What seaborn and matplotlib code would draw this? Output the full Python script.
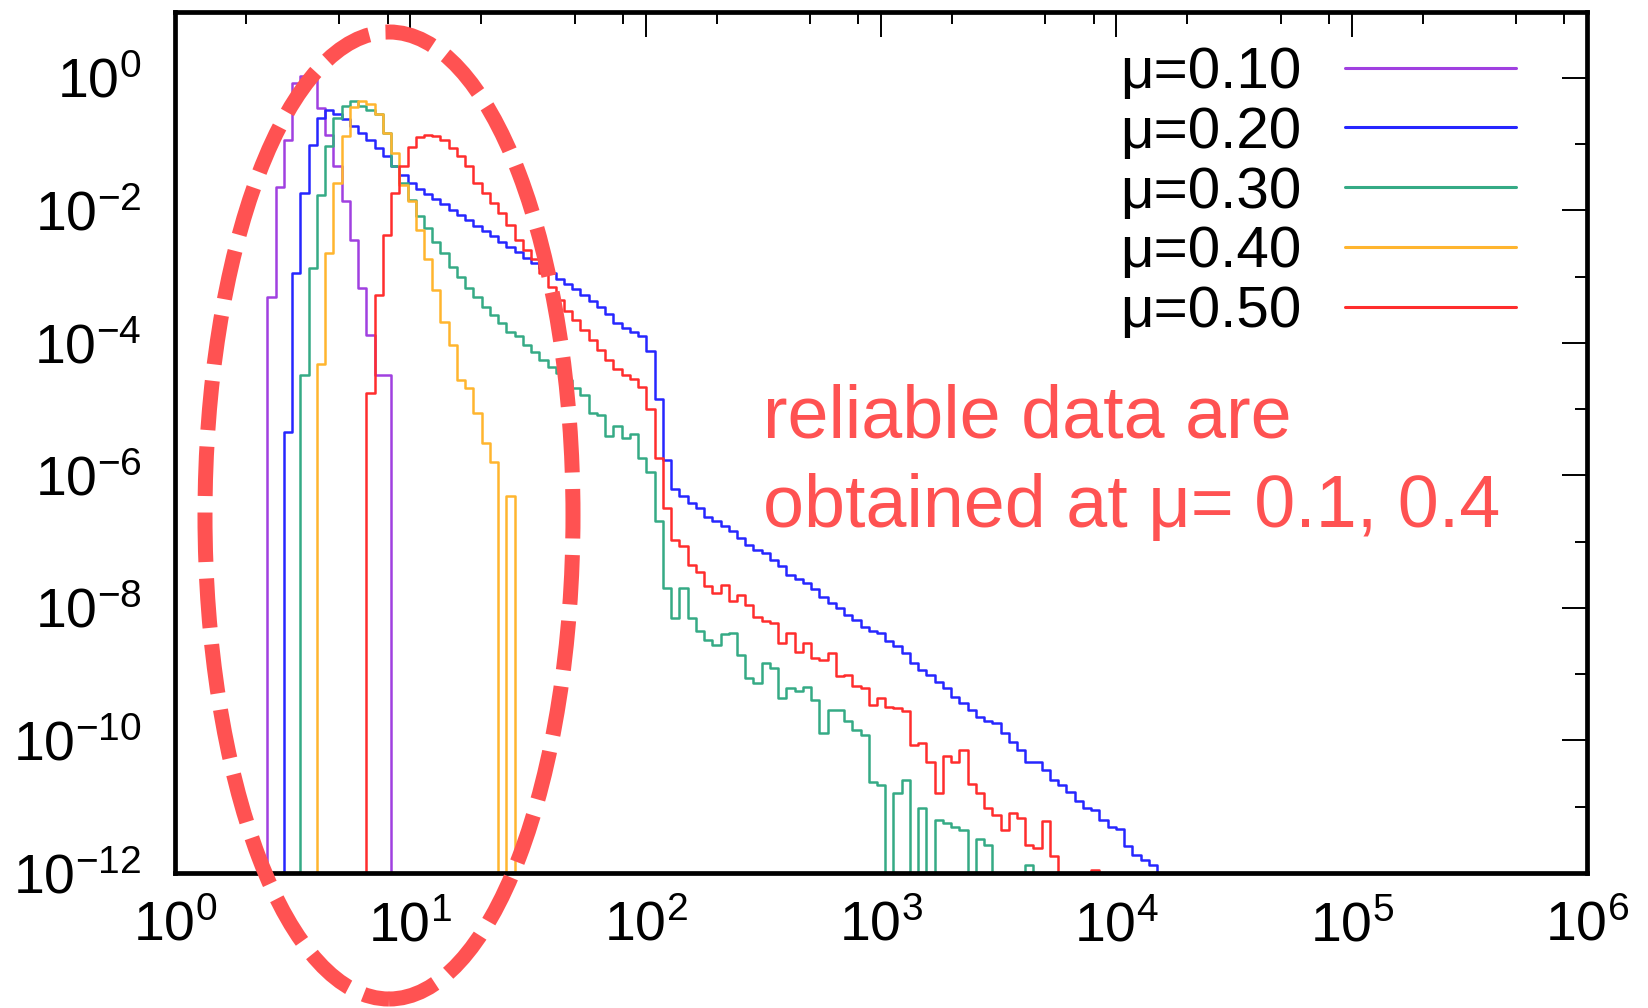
import numpy as np
import pandas as pd
import matplotlib
matplotlib.use("Agg")
import matplotlib.pyplot as plt
import seaborn as sns
from matplotlib.patches import Ellipse
from matplotlib.lines import Line2D
from matplotlib.ticker import FixedLocator, NullFormatter, LogFormatterSciNotation

# ------------------------------------------------------------------ data
series_labels = ["μ=0.10", "μ=0.20", "μ=0.30", "μ=0.40", "μ=0.50"]
series_colors = ["#a040e0", "#2626ff", "#35aa85", "#ffb52e", "#ff2d2d"]

# logarithmic histogram bins: bin k covers
# 10**(BIN_LOG0 + k*BIN_DLOG) .. 10**(BIN_LOG0 + (k+1)*BIN_DLOG)
BIN_LOG0 = 0.393
BIN_DLOG = 0.035
EMPTY_BIN_P = 1e-14   # empty bin (below the plotted range)

# log10 of probability per bin (None = empty bin)
mu010_first_bin = 0
mu010_log10p = [-3.30, -1.64, -0.93, -0.08, 0.03, 0.03, -0.45, -0.86, -1.33,
                -1.86, -2.44, -3.17, -3.88, -4.48, -4.48]

mu020_first_bin = 2
mu020_log10p = [-5.35, -2.95, -1.74, -1.01, -0.60, -0.49, -0.55, -0.62, -0.72,
                -0.83, -0.93, -1.06, -1.18, -1.33, -1.47, -1.59, -1.67, -1.75,
                -1.83, -1.91, -1.99, -2.07, -2.15, -2.23, -2.31, -2.39, -2.47,
                -2.55, -2.63, -2.71, -2.79, -2.87, -2.95, -3.03, -3.11, -3.19,
                -3.27, -3.36, -3.46, -3.57, -3.70, -3.77, -3.84, -3.90, -4.12,
                -4.85, -5.76,
                -6.21, -6.31, -6.42, -6.49, -6.62, -6.69, -6.77, -6.84, -6.94,
                -7.05, -7.12, -7.17, -7.27, -7.37, -7.50, -7.57, -7.62, -7.72,
                -7.83, -7.93, -8.00, -8.10, -8.18, -8.28, -8.35, -8.38, -8.50,
                -8.58, -8.68, -8.83, -8.93, -9.01, -9.11, -9.21, -9.34, -9.44,
                -9.54, -9.64, -9.71, -9.74, -9.89, -10.02, -10.14, -10.32,
                -10.32, -10.44, -10.59, -10.67, -10.77, -10.92, -11.02, -11.05,
                -11.20, -11.30, -11.33, -11.60, -11.73, -11.80, -11.88]

mu030_first_bin = 4
mu030_log10p = [-4.48, -2.87, -1.76, -1.03, -0.60, -0.42, -0.35, -0.42, -0.48,
                -0.55, -0.83, -1.33, -1.59, -1.84, -2.09, -2.27, -2.47, -2.64,
                -2.85, -3.00, -3.17, -3.30, -3.45, -3.58, -3.70, -3.83, -3.90,
                -4.03, -4.13, -4.25, -4.36, -4.46, -4.56, -4.68, -4.78, -5.05,
                -5.08, -5.41, -5.26, -5.43, -5.38, -5.73, -5.94, -6.69, -7.70,
                -8.15, -7.70, -8.15, -8.35, -8.48, -8.56, -8.40, -8.38, -8.71,
                -9.06, -9.13, -8.83, -8.91, -9.36, -9.21, -9.26, -9.19, -9.39,
                -9.89, -9.54, -9.54, -9.71, -9.84, -9.92, -10.62, -10.67, None,
                -10.80, -10.60, None, -11.02, None, -11.20, -11.25, -11.30,
                -11.35, None, -11.48, -11.58, None, None, None, None, -11.88]

mu040_first_bin = 6
mu040_log10p = [-4.31, -2.64, -1.59, -0.88, -0.44, -0.35, -0.39, -0.55, -0.83,
                -1.13, -1.61, -1.86, -2.29, -2.74, -3.20, -3.68, -4.03, -4.56,
                -4.68, -5.05, -5.51, -5.79, None, -6.31]

mu050_first_bin = 12
mu050_log10p = [-4.76, -3.27, -2.37, -1.74, -1.33, -1.04, -0.89, -0.86, -0.87,
                -0.93, -1.06, -1.18, -1.33, -1.59, -1.74, -1.89, -2.04, -2.22,
                -2.44, -2.59, -2.74, -2.95, -3.15, -3.35, -3.52, -3.65, -3.80,
                -3.95, -4.10, -4.25, -4.40, -4.48, -4.55, -4.66, -5.00, -5.73,
                -6.49, -6.97, -7.07, -7.35, -7.45, -7.67, -7.78, -7.65, -7.90,
                -7.80, -7.95, -8.13, -8.20, -8.23, -8.53, -8.38, -8.66, -8.53,
                -8.76, -8.78, -8.68, -9.03, -9.01, -9.18, -9.21, -9.46, -9.36,
                -9.49, -9.51, -9.56, -10.07, -10.04, -10.32, -10.80, -10.24,
                -10.33, -10.14, -10.65, -10.80, -11.02, -11.12, -11.35, -11.10,
                -11.17, -11.58, -11.63, -11.22, -11.75, None, None, None, None,
                -11.95]

series_first_bins = [mu010_first_bin, mu020_first_bin, mu030_first_bin,
                     mu040_first_bin, mu050_first_bin]
series_values = [mu010_log10p, mu020_log10p, mu030_log10p, mu040_log10p,
                 mu050_log10p]

x_tick_values = [1e0, 1e1, 1e2, 1e3, 1e4, 1e5, 1e6]
y_tick_values = [1e-12, 1e-10, 1e-8, 1e-6, 1e-4, 1e-2, 1e0]
y_minor_values = [1e-11, 1e-9, 1e-7, 1e-5, 1e-3, 1e-1]
x_minor_mantissas = [2, 5, 8]

note_line1 = "reliable data are"
note_line2 = "obtained at μ= 0.1, 0.4"
note_color = "#ff5252"

# ------------------------------------------------------------------ table for seaborn
rows = []
for label, first, vals in zip(series_labels, series_first_bins, series_values):
    k = np.arange(first, first + len(vals) + 1)
    edges = 10.0 ** (BIN_LOG0 + BIN_DLOG * k)
    p = np.array([EMPTY_BIN_P if v is None else 10.0 ** v for v in vals])
    xs = np.concatenate([[edges[0]], edges[:-1], [edges[-1]]])
    ys = np.concatenate([[EMPTY_BIN_P], p, [EMPTY_BIN_P]])
    for xv, yv in zip(xs, ys):
        rows.append({"series": label, "x": xv, "p": yv})
df = pd.DataFrame(rows)

# ------------------------------------------------------------------ style
sns.set_style("white")
plt.rcParams["font.family"] = ["Liberation Sans", "DejaVu Sans"]
plt.rcParams["mathtext.fontset"] = "custom"
plt.rcParams["mathtext.rm"] = "Liberation Sans"
plt.rcParams["mathtext.default"] = "regular"
plt.rcParams["text.color"] = "black"
plt.rcParams["xtick.color"] = "black"
plt.rcParams["ytick.color"] = "black"

W, H = 1648, 1008
fig = plt.figure(figsize=(W / 100, H / 100), dpi=100)
ax = fig.add_axes([175 / W, 1 - 873 / H, (1587 - 175) / W, (873 - 11.7) / H])
ax.set_xscale("log")
ax.set_yscale("log")

palette = dict(zip(series_labels, series_colors))
sns.lineplot(data=df, x="x", y="p", hue="series", hue_order=series_labels,
             palette=palette, estimator=None, sort=False,
             drawstyle="steps-post", linewidth=1.8, legend=False, ax=ax)

ax.set_xlim(1, 1e6)
ax.set_ylim(1e-12, 1e1)
ax.set_xlabel("")
ax.set_ylabel("")

ax.xaxis.set_major_locator(FixedLocator(x_tick_values))
ax.xaxis.set_minor_locator(FixedLocator(
    [m * d for d in x_tick_values[:-1] for m in x_minor_mantissas]))
ax.yaxis.set_major_locator(FixedLocator(y_tick_values))
ax.yaxis.set_minor_locator(FixedLocator(y_minor_values))
ax.xaxis.set_major_formatter(LogFormatterSciNotation())
ax.yaxis.set_major_formatter(LogFormatterSciNotation())
ax.xaxis.set_minor_formatter(NullFormatter())
ax.yaxis.set_minor_formatter(NullFormatter())

ax.tick_params(which="major", direction="in", length=18, width=1.4,
               top=True, right=True, labelsize=40, color="black",
               labelcolor="black")
ax.tick_params(which="minor", direction="in", length=8.6, width=1.4,
               top=True, right=True, color="black")
ax.tick_params(axis="x", which="major", pad=20)
ax.tick_params(axis="y", which="major", pad=24)
for s in ax.spines.values():
    s.set_linewidth(3.4)
    s.set_color("black")
    s.set_visible(True)

handles = [Line2D([], [], color=c, linewidth=2.2) for c in series_colors]
leg = ax.legend(handles, series_labels, loc="upper left",
                bbox_to_anchor=(1120 / W, 1 - 46 / H),
                bbox_transform=fig.transFigure,
                frameon=False, markerfirst=False, fontsize=42,
                handlelength=2.93, handletextpad=0.75, labelspacing=0.10,
                borderpad=0, borderaxespad=0)
for t in leg.get_texts():
    t.set_color("black")

fig.text(763 / W, 1 - 437 / H, note_line1, color=note_color, fontsize=53,
         ha="left", va="baseline")
fig.text(763 / W, 1 - 527 / H, note_line2, color=note_color, fontsize=53,
         ha="left", va="baseline")

ell = Ellipse((389 / W, 1 - 515.5 / H), 368 / W, 967 / H,
              transform=fig.transFigure, fill=False, edgecolor=note_color,
              linewidth=10.8, linestyle=(0, (3.3, 1.1)), zorder=5)
fig.add_artist(ell)

fig.savefig("out.png", dpi=100)
